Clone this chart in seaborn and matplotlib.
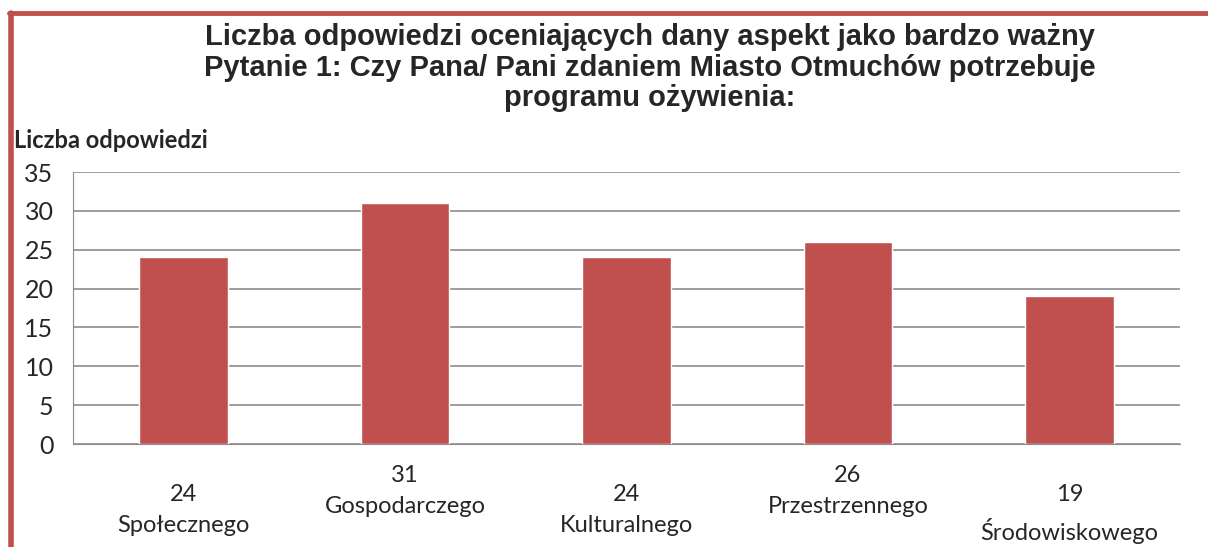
import numpy as np
import pandas as pd
import matplotlib
matplotlib.use("Agg")
import matplotlib.pyplot as plt
import seaborn as sns
from matplotlib.lines import Line2D

# data
aspekty = ['Społecznego', 'Gospodarczego', 'Kulturalnego', 'Przestrzennego', 'Środowiskowego']
liczba = [24, 31, 24, 26, 19]
y_ticks = [0, 5, 10, 15, 20, 25, 30, 35]

title = ('Liczba odpowiedzi oceniających dany aspekt jako bardzo ważny\n'
         'Pytanie 1: Czy Pana/ Pani zdaniem Miasto Otmuchów potrzebuje\n'
         'programu ożywienia:')

df = pd.DataFrame({'aspekt': aspekty, 'liczba': liczba})

sns.set_style('white')
plt.rcParams['font.family'] = ['Lato', 'DejaVu Sans']

fig = plt.figure(figsize=(12.08, 5.47), dpi=100)
ax = fig.add_axes([73/1208, 1 - 444/547, 1107/1208, 272/547])

sns.barplot(data=df, x='aspekt', y='liczba', color='#C0504D', width=0.4,
            saturation=1, ax=ax, zorder=3)

ax.set_ylim(0, 35)
ax.set_yticks(y_ticks)
ax.yaxis.grid(True, color='#8C8C8C', lw=1.2, zorder=0)
ax.set_xlabel('')
ax.set_ylabel('')
for s in ['top', 'right']:
    ax.spines[s].set_visible(False)
ax.spines['left'].set_color('#8C8C8C')
ax.spines['bottom'].set_color('#8C8C8C')
ax.tick_params(axis='y', length=6, color='#8C8C8C', labelsize=18, pad=8)
ax.tick_params(axis='x', length=0, labelsize=17)

ax.set_xticks(range(len(aspekty)))
ax.set_xticklabels([f'{v}\n{a}' for v, a in zip(liczba, aspekty)], linespacing=1.6)
# staggered labels like the original
for i, t in enumerate(ax.xaxis.get_major_ticks()):
    t.set_pad(29 if i % 2 == 0 else 15)

fig.text(650/1208, 1 - 23/547, title, ha='center', va='top', fontsize=21,
         fontweight='bold', family=['Liberation Sans', 'DejaVu Sans'], linespacing=1.12)
fig.text(14/1208, 1 - 140/547, 'Liczba odpowiedzi', ha='left', va='center',
         fontsize=17, fontweight='bold')

# red frame on top and left
fig.add_artist(Line2D([9/1208, 1], [1 - 13/547, 1 - 13/547], color='#C0504D', lw=3.5,
                      transform=fig.transFigure))
fig.add_artist(Line2D([11/1208, 11/1208], [0, 1 - 13/547], color='#C0504D', lw=4,
                      transform=fig.transFigure))

fig.savefig('out.png', dpi=100)
